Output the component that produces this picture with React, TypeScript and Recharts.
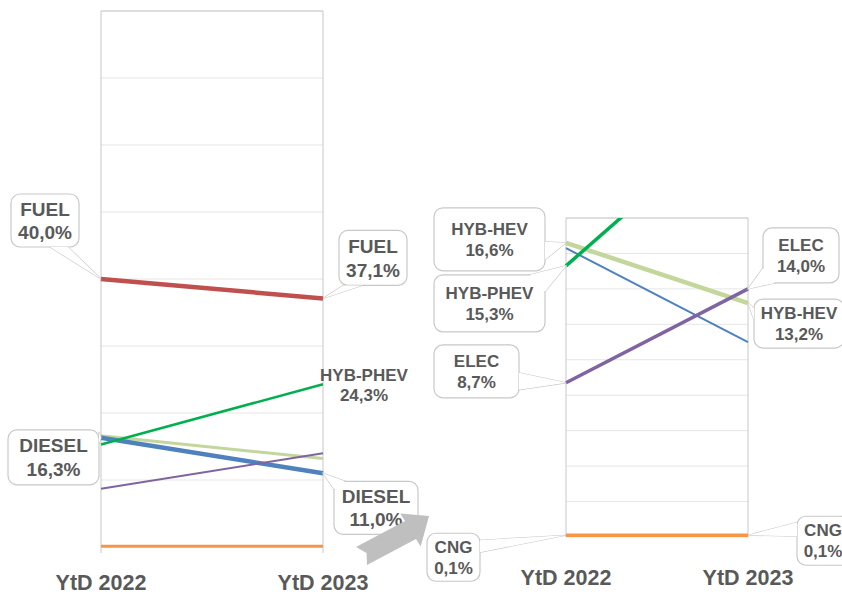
import React from 'react';
import { LineChart, Line, XAxis, YAxis, CartesianGrid, ReferenceLine, LabelList } from 'recharts';

const categories = ['YtD 2022', 'YtD 2023'];
const fuel = [40.0, 37.1];
const diesel = [16.3, 11.0];
const hybHev = [16.6, 13.2];
const hybPhev = [15.3, 24.3];
const elec = [8.7, 14.0];
const cng = [0.1, 0.1];

const leftTicks = [0, 10, 20, 30, 40, 50, 60, 70, 80];
const rightTicks = [0, 2, 4, 6, 8, 10, 12, 14, 16, 18];

const data = categories.map((cat, i) => ({
  cat,
  fuel: fuel[i],
  diesel: diesel[i],
  hybHev: hybHev[i],
  hybPhev: hybPhev[i],
  elec: elec[i],
  cng: cng[i],
}));

const SERIES: Record<string, { name: string; values: number[]; color: string }> = {
  hybHev: { name: 'HYB-HEV', values: hybHev, color: '#C3D69B' },
  diesel: { name: 'DIESEL', values: diesel, color: '#4F81BD' },
  elec: { name: 'ELEC', values: elec, color: '#8064A2' },
  hybPhev: { name: 'HYB-PHEV', values: hybPhev, color: '#00B050' },
  fuel: { name: 'FUEL', values: fuel, color: '#C0504D' },
  cng: { name: 'CNG', values: cng, color: '#F79646' },
};

const LEFT_WIDTHS: Record<string, number> = { hybHev: 3, diesel: 4.5, elec: 2, hybPhev: 2.5, fuel: 4.5, cng: 3 };
const RIGHT_WIDTHS: Record<string, number> = { hybHev: 4.5, diesel: 2, elec: 3.5, hybPhev: 3.5, fuel: 3, cng: 3.5 };

// callout layout relative to the point: box [dx, dy, w, h], wedge base points
type Lay = { box?: number[]; wedge?: number[][]; text?: number[] } | null;

const LEFT_CALLOUTS: Record<string, Lay[]> = {
  fuel: [
    { box: [-90, -85, 68, 53], wedge: [[-51, -32], [-33, -32]] },
    { box: [16, -68, 68, 55], wedge: [[20, -13], [39, -13]] },
  ],
  diesel: [
    { box: [-93, -8, 91, 55], wedge: [[-2, -6], [-2, 6]] },
    { box: [11, 8, 84, 53], wedge: [[11, 16], [22, 8]] },
  ],
  hybPhev: [null, { text: [41, -3, 17] }],
};

const RIGHT_CALLOUTS: Record<string, Lay[]> = {
  hybHev: [
    { box: [-132, -35, 111, 63], wedge: [[-21, -1], [-21, 17]] },
    { box: [6, -4, 90, 49], wedge: [[6, 5], [6, 17]] },
  ],
  hybPhev: [{ box: [-132, 9, 111, 57], wedge: [[-36, 9], [-21, 26]] }, null],
  elec: [
    { box: [-132, -38, 85, 53], wedge: [[-47, -10], [-47, 7]] },
    { box: [15, -61, 76, 55], wedge: [[15, -21], [27, -6]] },
  ],
  cng: [
    { box: [-139, -2, 53, 48], wedge: [[-86, 5], [-86, 17]] },
    { box: [49, -19, 52, 49], wedge: [[49, -13], [49, 1]] },
  ],
};

const FONT = '"Liberation Sans", Arial, sans-serif';
const TEXT = '#595959';
const BORDER = '#C8C8C8';

const fmt = (v: number) => v.toFixed(1).replace('.', ',') + '%';

const makeCallout = (key: string, layouts: Lay[] | undefined, font: number) => (props: any) => {
  const idx = props.index;
  const lay = layouts ? layouts[idx] : null;
  if (!lay) return null;
  const px = props.viewBox?.x ?? props.x;
  const py = props.viewBox?.y ?? props.y;
  const name = SERIES[key].name;
  const value = fmt(SERIES[key].values[idx]);
  const lh = font * 1.24;
  const cap = font * 0.716;

  if (lay.text) {
    const [dx, dy, fs] = lay.text;
    return (
      <g fontFamily={FONT} fontWeight="bold" fill={TEXT} fontSize={fs} textAnchor="middle">
        <text x={px + dx} y={py + dy}>{name}</text>
        <text x={px + dx} y={py + dy + 20}>{value}</text>
      </g>
    );
  }
  const [bx, by, w, h] = lay.box!;
  const x0 = px + bx;
  const y0 = py + by;
  const [a, b] = lay.wedge!;
  const tri = `M${px + a[0]},${py + a[1]} L${px},${py} L${px + b[0]},${py + b[1]} Z`;
  const cx = x0 + w / 2;
  const cy = y0 + h / 2;
  return (
    <g>
      <path d={tri} fill="#fff" stroke={BORDER} strokeWidth={1.2} />
      <rect x={x0} y={y0} width={w} height={h} rx={9} fill="#fff" stroke={BORDER} strokeWidth={1.2} />
      <path d={tri} fill="#fff" stroke="none" />
      <g fontFamily={FONT} fontWeight="bold" fill={TEXT} fontSize={font} textAnchor="middle">
        <text x={cx} y={cy - lh / 2 + cap / 2}>{name}</text>
        <text x={cx} y={cy + lh / 2 + cap / 2}>{value}</text>
      </g>
    </g>
  );
};

const makeTick = (off: number) => (props: any) => (
  <text
    x={props.x}
    y={props.y + off}
    textAnchor="middle"
    fontFamily={FONT}
    fontWeight="bold"
    fontSize={21.5}
    fill={TEXT}
  >
    {props.payload.value}
  </text>
);

const ORDER = ['hybHev', 'diesel', 'elec', 'hybPhev', 'fuel', 'cng'];

export default function App() {
  return (
    <div style={{ position: 'fixed', left: 0, top: 0, width: 842, height: 595, background: '#fff' }}>
      <div style={{ position: 'absolute', left: 0, top: 0 }}>
        <LineChart width={842} height={595} data={data} margin={{ top: 11, right: 519, bottom: 0, left: 101 }}>
          <CartesianGrid vertical={false} stroke="#E6E6E6" strokeWidth={1} />
          <XAxis
            dataKey="cat"
            height={48}
            axisLine={false}
            tickLine={{ stroke: BORDER }}
            tickSize={6}
            interval={0}
            tick={makeTick(35)}
          />
          <YAxis hide domain={[0, 80]} ticks={leftTicks} />
          <ReferenceLine y={80} stroke={BORDER} />
          <ReferenceLine x="YtD 2022" stroke={BORDER} />
          <ReferenceLine x="YtD 2023" stroke={BORDER} />
          {ORDER.map((k) => (
            <Line
              key={k}
              dataKey={k}
              stroke={SERIES[k].color}
              strokeWidth={LEFT_WIDTHS[k]}
              dot={false}
              activeDot={false}
              isAnimationActive={false}
            >
              {LEFT_CALLOUTS[k] && <LabelList content={makeCallout(k, LEFT_CALLOUTS[k], 19)} />}
            </Line>
          ))}
        </LineChart>
      </div>
      <div style={{ position: 'absolute', left: 0, top: 0 }}>
        <LineChart width={842} height={595} data={data} margin={{ top: 218, right: 94, bottom: 0, left: 566 }}>
          <CartesianGrid vertical={false} stroke="#E6E6E6" strokeWidth={1} />
          <XAxis
            dataKey="cat"
            height={58}
            axisLine={false}
            tickLine={false}
            interval={0}
            tick={makeTick(40)}
          />
          <YAxis hide domain={[0, 18]} ticks={rightTicks} allowDataOverflow />
          <ReferenceLine y={18} stroke={BORDER} />
          <ReferenceLine x="YtD 2022" stroke={BORDER} />
          <ReferenceLine x="YtD 2023" stroke={BORDER} />
          {ORDER.map((k) => (
            <Line
              key={k}
              dataKey={k}
              stroke={SERIES[k].color}
              strokeWidth={RIGHT_WIDTHS[k]}
              dot={false}
              activeDot={false}
              isAnimationActive={false}
            >
              {RIGHT_CALLOUTS[k] && <LabelList content={makeCallout(k, RIGHT_CALLOUTS[k], 17)} />}
            </Line>
          ))}
        </LineChart>
      </div>
      <svg width={842} height={595} style={{ position: 'absolute', left: 0, top: 0, pointerEvents: 'none' }}>
        <polygon
          points="367,565 416,539 420.7,546.6 429,516 400.3,513.4 405,521 356,547 366.6,552.9"
          fill="#BFBFBF"
        />
      </svg>
    </div>
  );
}
